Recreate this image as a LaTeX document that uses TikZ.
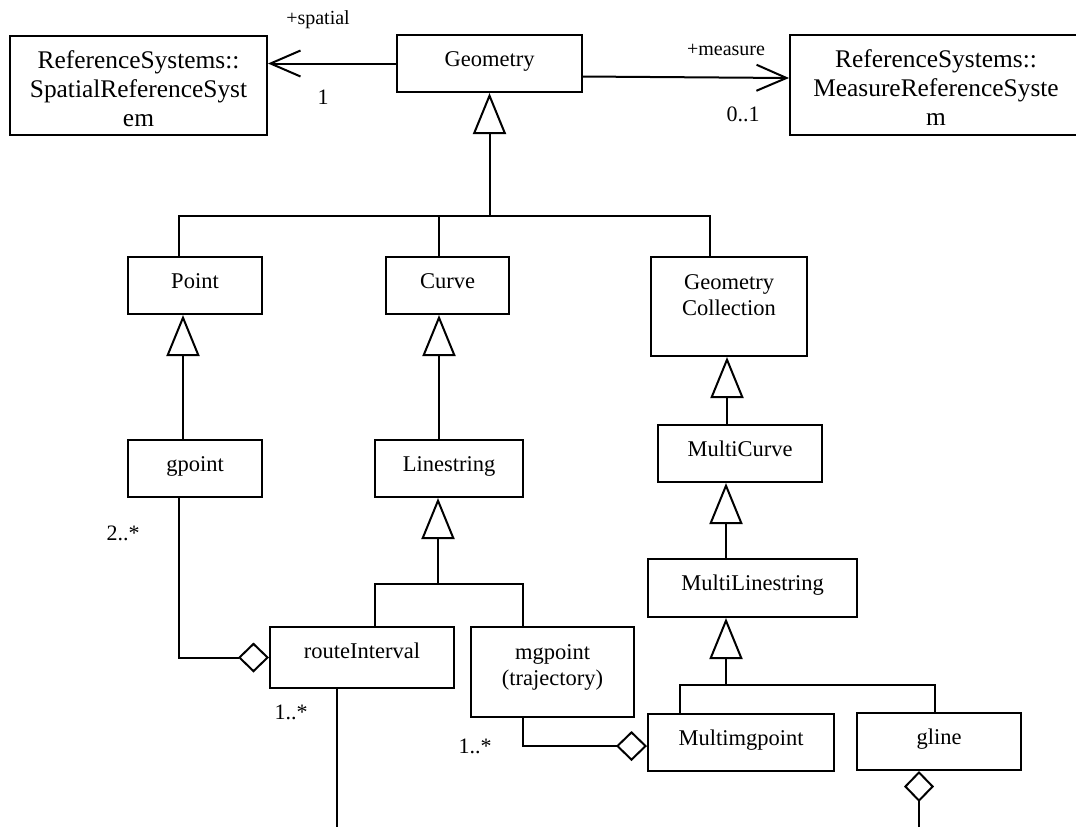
\documentclass[tikz,border=0pt]{standalone}
\usepackage{fontspec}
\setmainfont{Liberation Serif}
\usetikzlibrary{arrows.meta,positioning,calc}
\tikzset{
	cls/.style={draw, line width=1pt, inner sep=0pt, align=center, font=\clsFont,
		text height=15.75pt, text depth=12.75pt},
	twoline/.style={text height=29.25pt, text depth=#1},
	refcls/.style={cls, font=\refFont, text height=45.2pt, text depth=4.3pt},
	lnk/.style={line width=1pt},
	gen/.style={lnk, -{Triangle[open, length=20.5pt, width=16.5pt]}},
	agg/.style={lnk, -{Diamond[open, length=15.5pt, width=15pt]}},
	nav/.style={lnk, -{Straight Barb[length=15pt, width=13pt]}},
	mult/.style={inner sep=0pt, font=\multFont},
	role/.style={inner sep=0pt, font=\roleFont}
}
\newcommand{\clsFont}{\fontsize{11.25}{13}\selectfont}
\newcommand{\refFont}{\fontsize{12.7}{14.5}\selectfont}
\newcommand{\multFont}{\fontsize{11}{13}\selectfont}
\newcommand{\roleFont}{\fontsize{10}{12}\selectfont}

\begin{document}
\begin{tikzpicture}[x=0.5pt, y=-0.5pt]
	\clip (0,0) rectangle (1076,827);
	% classes
	\node[refcls, minimum width=128.5pt] (srs) at (138.5, 85.5) {ReferenceSystems::\\SpatialReferenceSyst\\em};
	\node[cls, minimum width=92.5pt] (geom) at (489.5, 63.5) {Geometry};
	\node[refcls, minimum width=146pt, text depth=4.8pt] (mrs) at (936, 85) {ReferenceSystems::\\MeasureReferenceSyste\\m};
	\node[cls, minimum width=67pt] (point) at (195, 285.5) {Point};
	\node[cls, minimum width=61.5pt] (curve) at (447.5, 285.5) {Curve};
	\node[cls, twoline=20.25pt, minimum width=78pt] (coll) at (729, 306.5) {Geometry\\Collection};
	\node[cls, minimum width=67pt] (gpoint) at (195, 468.5) {gpoint};
	\node[cls, minimum width=74pt] (linestr) at (449, 468.5) {Linestring};
	\node[cls, minimum width=82pt] (mcurve) at (740, 453.5) {MultiCurve};
	\node[cls, minimum width=104.5pt, text depth=13.25pt] (mls) at (752.5, 588) {MultiLinestring};
	\node[cls, minimum width=92pt, text depth=14.75pt] (rint) at (362, 657.5) {routeInterval};
	\node[cls, twoline=15.75pt, minimum width=81.5pt] (mgp) at (552.5, 672) {mgpoint\\(trajectory)};
	\node[cls, minimum width=93pt] (mmgp) at (741, 742.5) {Multimgpoint};
	\node[cls, minimum width=82pt] (gline) at (939, 741.5) {gline};

	% junctions and loose ends
	\coordinate (jGeom) at (489.5, 216);
	\coordinate (jLine) at (438, 584);
	\coordinate (jMls) at (726, 685);
	\coordinate (rintEnd) at (337, 827);
	\coordinate (glineEnd) at (919, 827);

	% associations
	\draw[nav] (geom.west) -- (srs.east |- geom.west);
	\draw[nav] ([yshift=-6.5pt]geom.east) -- ([yshift=3.5pt]mrs.west);
	\node[role] (spatialRole) at (318, 20) {+spatial};
	\node[mult] (srsMult) at (323, 97) {1};
	\node[role] (measureRole) at (726, 50) {+measure};
	\node[mult] (mrsMult) at (743, 114) {0..1};

	% generalizations
	\draw[lnk] ([xshift=-8pt]point.north) |- (jGeom) -| ([xshift=-9.5pt]coll.north);
	\draw[lnk] ([xshift=-4.25pt]curve.north) -- ([xshift=-4.25pt]curve.north |- jGeom);
	\draw[gen] (jGeom) -- (geom.south);
	\draw[gen] ([xshift=-6pt]gpoint.north) -- ([xshift=-6pt]gpoint.north |- point.south);
	\draw[gen] ([xshift=-5pt]linestr.north) -- ([xshift=-5pt]linestr.north |- curve.south);
	\draw[gen] ([xshift=-6.5pt]mcurve.north) -- ([xshift=-6.5pt]mcurve.north |- coll.south);
	\draw[gen] ([xshift=-13.25pt]mls.north) -- ([xshift=-13.25pt]mls.north |- mcurve.south);
	\draw[lnk] ([xshift=6.5pt]rint.north) |- (jLine) -| ([xshift=-14.75pt]mgp.north);
	\draw[gen] (jLine) -- (jLine |- linestr.south);
	\draw[lnk] ([xshift=-30.5pt]mmgp.north) |- (jMls) -| ([xshift=-2pt]gline.north);
	\draw[gen] (jMls) -- (jMls |- mls.south);

	% aggregations
	\draw[agg] ([xshift=-8pt]gpoint.south) |- (rint.west);
	\draw[agg] ([xshift=-14.75pt]mgp.south) |- ([yshift=-1.75pt]mmgp.west);
	\draw[agg] (glineEnd) -- (glineEnd |- gline.south);
	\draw[lnk] ([xshift=-12.5pt]rint.south) -- (rintEnd);
	\node[mult] (gpointMult) at (123, 533) {2..*};
	\node[mult] (rintMult) at (291, 712) {1..*};
	\node[mult] (mgpMult) at (475, 746) {1..*};
\end{tikzpicture}
\end{document}
